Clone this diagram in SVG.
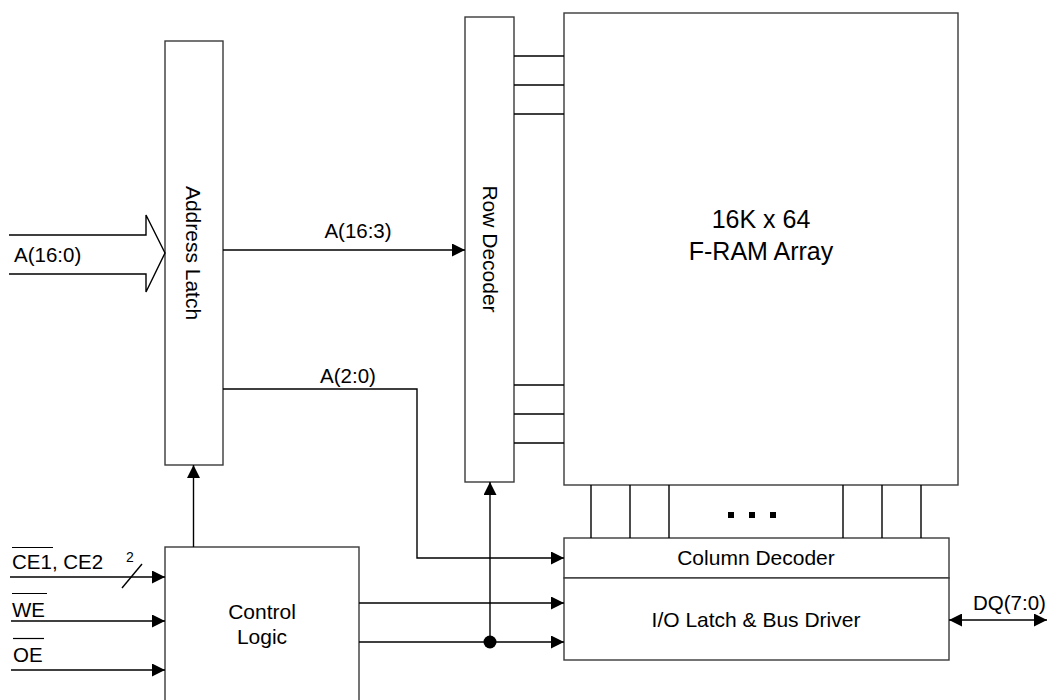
<svg xmlns="http://www.w3.org/2000/svg" width="1047" height="700" viewBox="0 0 1047 700">
<defs>
<style>
.box{fill:#fff;stroke:#3a3a3a;stroke-width:1.4}
.ln{fill:none;stroke:#000;stroke-width:1.4}
.t{font-family:"Liberation Sans",Arial,sans-serif;fill:#000}
.lbl{font-size:20.5px}
.big{font-size:25px}
.mid{font-size:21px}
</style>
<marker id="ah" markerWidth="14" markerHeight="13" refX="13" refY="6.5" orient="auto" markerUnits="userSpaceOnUse">
<path d="M0,0 L13,6.5 L0,13 Z" fill="#000"/>
</marker>
<marker id="ahs" markerWidth="14" markerHeight="13" refX="13" refY="6.5" orient="auto-start-reverse" markerUnits="userSpaceOnUse">
<path d="M0,0 L13,6.5 L0,13 Z" fill="#000"/>
</marker>
</defs>
<rect width="1047" height="700" fill="#fff"/>

<g id="address-latch">
<rect class="box" x="165" y="41" width="58" height="424"/>
<text class="t mid" transform="translate(193,253) rotate(90)" text-anchor="middle" dominant-baseline="central">Address Latch</text>
</g>

<g id="row-decoder">
<rect class="box" x="465" y="17" width="49" height="465"/>
<text class="t mid" transform="translate(490,249) rotate(90)" text-anchor="middle" dominant-baseline="central">Row Decoder</text>
</g>

<g id="fram-array">
<rect class="box" x="564" y="13" width="394" height="472"/>
<text class="t big" x="761" y="228" text-anchor="middle">16K x 64</text>
<text class="t big" x="761" y="260" text-anchor="middle">F-RAM Array</text>
</g>

<g id="column-decoder">
<rect class="box" x="564" y="538" width="385" height="40"/>
<text class="t mid" x="756" y="565" text-anchor="middle">Column Decoder</text>
</g>

<g id="io-latch">
<rect class="box" x="564" y="578" width="385" height="82"/>
<text class="t mid" x="756" y="627" text-anchor="middle">I/O Latch &amp; Bus Driver</text>
</g>

<g id="control-logic">
<rect class="box" x="165" y="547" width="194" height="170"/>
<text class="t mid" x="262" y="619" text-anchor="middle">Control</text>
<text class="t mid" x="262" y="644" text-anchor="middle">Logic</text>
</g>

<g id="connectors">
<path class="ln" d="M9,235 H146 V215 L165,253 L146,292 V274 H9"/>
<text class="t lbl" x="14" y="262">A(16:0)</text>
<line class="ln" x1="223" y1="250" x2="465" y2="250" marker-end="url(#ah)"/>
<text class="t lbl" x="358" y="238" text-anchor="middle">A(16:3)</text>
<path class="ln" d="M223,389 H417 V558 H564" marker-end="url(#ah)"/>
<text class="t lbl" x="348" y="383" text-anchor="middle">A(2:0)</text>
<path class="ln" d="M514,56 H564 M514,85 H564 M514,114 H564 M514,385 H564 M514,414 H564 M514,443 H564"/>
<path class="ln" d="M591,485 V538 M630,485 V538 M669,485 V538 M843,485 V538 M882,485 V538 M921,485 V538"/>
<rect x="728" y="512" width="6" height="6" fill="#000"/>
<rect x="749" y="512" width="6" height="6" fill="#000"/>
<rect x="770" y="512" width="6" height="6" fill="#000"/>
<line class="ln" x1="193.5" y1="547" x2="193.5" y2="465" marker-end="url(#ah)"/>
<line class="ln" x1="359" y1="603" x2="564" y2="603" marker-end="url(#ah)"/>
<line class="ln" x1="359" y1="642" x2="564" y2="642" marker-end="url(#ah)"/>
<line class="ln" x1="490" y1="642" x2="490" y2="482" marker-end="url(#ah)"/>
<circle cx="490" cy="642" r="6.5" fill="#000"/>
<line class="ln" x1="10" y1="577" x2="165" y2="577" marker-end="url(#ah)"/>
<line class="ln" x1="122" y1="588" x2="142" y2="564"/>
<text class="t" style="font-size:14px" x="126" y="562">2</text>
<text class="t lbl" x="12" y="569">CE1, CE2</text>
<line x1="12" y1="547.5" x2="53" y2="547.5" stroke="#000" stroke-width="1.2"/>
<line class="ln" x1="11" y1="621" x2="165" y2="621" marker-end="url(#ah)"/>
<text class="t lbl" x="12" y="617">WE</text>
<line x1="12" y1="593.5" x2="47" y2="593.5" stroke="#000" stroke-width="1.2"/>
<line class="ln" x1="11" y1="670" x2="165" y2="670" marker-end="url(#ah)"/>
<text class="t lbl" x="13" y="662">OE</text>
<line x1="13" y1="638.5" x2="44" y2="638.5" stroke="#000" stroke-width="1.2"/>
<line class="ln" x1="949" y1="620" x2="1047" y2="620" marker-start="url(#ahs)" marker-end="url(#ah)"/>
<text class="t lbl" x="973" y="610">DQ(7:0)</text>
</g>
</svg>
